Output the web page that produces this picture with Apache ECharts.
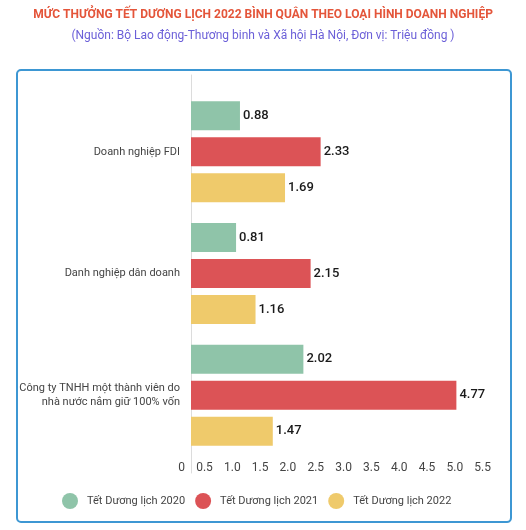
<!DOCTYPE html>
<html lang="vi">
<head>
  <meta charset="UTF-8">
  <title>Mức thưởng Tết Dương lịch 2022</title>
  <script src="https://cdn.jsdelivr.net/npm/echarts@6/dist/echarts.min.js"></script>
  <style>
    html, body { margin: 0; padding: 0; background: #fff; }
    #wrap { position: relative; width: 526px; height: 530px; }
    #box {
      position: absolute; left: 16px; top: 69px; width: 492px; height: 450px;
      border: 2px solid #3d97d3; border-radius: 5px;
    }
    #main { position: absolute; left: 0; top: 0; width: 526px; height: 530px; }
  </style>
</head>
<body>
<div id="wrap">
  <div id="box"></div>
  <div id="main"></div>
</div>
<script>
  // du lieu
  var categories = [
    'Công ty TNHH một thành viên do\nnhà nước nắm giữ 100% vốn',
    'Danh nghiệp dân doanh',
    'Doanh nghiệp FDI'
  ];
  var seriesNames = ['Tết Dương lịch 2020', 'Tết Dương lịch 2021', 'Tết Dương lịch 2022'];
  var values2020 = [2.02, 0.81, 0.88];
  var values2021 = [4.77, 2.15, 2.33];
  var values2022 = [1.47, 1.16, 1.69];
  var colors = ['#8fc4a9', '#dc5356', '#efca6b'];

  var font = 'Roboto, "Noto Sans", sans-serif';

  function makeSerie(name, data, color) {
    return {
      name: name,
      type: 'bar',
      xAxisIndex: 0,
      yAxisIndex: 0,
      data: data,
      barWidth: 29,
      barGap: '24%',
      itemStyle: { color: color },
      label: {
        show: true,
        position: 'right',
        distance: 3,
        color: '#1a1a1a',
        fontSize: 13,
        fontWeight: 500,
        fontFamily: font
      }
    };
  }

  var chart = echarts.init(document.getElementById('main'));
  var option = {
    color: colors,
    title: [{
      text: 'MỨC THƯỞNG TẾT DƯƠNG LỊCH 2022 BÌNH QUÂN THEO LOẠI HÌNH DOANH NGHIỆP',
      left: 'center',
      top: 4,
      textStyle: { color: '#e4553a', fontSize: 12, fontWeight: 'bold', fontFamily: font }
    }, {
      text: '(Nguồn: Bộ Lao động-Thương binh và Xã hội Hà Nội, Đơn vị: Triệu đồng )',
      left: 'center',
      top: 25,
      textStyle: { color: '#6b5fd8', fontSize: 12, fontWeight: 'normal', fontFamily: font }
    }],
    legend: {
      data: seriesNames,
      bottom: 16,
      left: 57,
      icon: 'circle',
      itemWidth: 16,
      itemHeight: 16,
      itemGap: 10,
      textStyle: { color: '#444', fontSize: 11, fontFamily: font, padding: [0, 0, 0, 4] }
    },
    grid: [
      { left: 191, right: 29, top: 91, bottom: 74 },
      { left: 191, right: 29, top: 75, bottom: 57 }
    ],
    xAxis: [{
      type: 'value',
      gridIndex: 0,
      min: 0,
      max: 5.5,
      interval: 0.5,
      axisLine: { show: false },
      axisTick: { show: false },
      splitLine: { show: false },
      axisLabel: {
        color: '#444',
        fontSize: 12,
        fontFamily: font,
        margin: 6,
        align: 'right',
        padding: [0, 6, 0, 0],
        formatter: function (v) { return v === 0 ? '0' : v.toFixed(1); }
      }
    }, {
      type: 'value',
      gridIndex: 1,
      show: false
    }],
    yAxis: [{
      type: 'category',
      gridIndex: 0,
      data: categories,
      axisLine: { show: false },
      axisTick: { show: false },
      axisLabel: {
        color: '#444',
        fontSize: 11,
        fontFamily: font,
        margin: 11,
        lineHeight: 14,
        align: 'right'
      }
    }, {
      type: 'value',
      gridIndex: 1,
      axisLine: { show: true, lineStyle: { color: '#dcdcdc', width: 1 } },
      axisTick: { show: false },
      axisLabel: { show: false },
      splitLine: { show: false }
    }],
    series: [
      makeSerie(seriesNames[0], values2020, colors[0]),
      makeSerie(seriesNames[1], values2021, colors[1]),
      makeSerie(seriesNames[2], values2022, colors[2])
    ]
  };
  chart.setOption(option);
</script>
</body>
</html>
